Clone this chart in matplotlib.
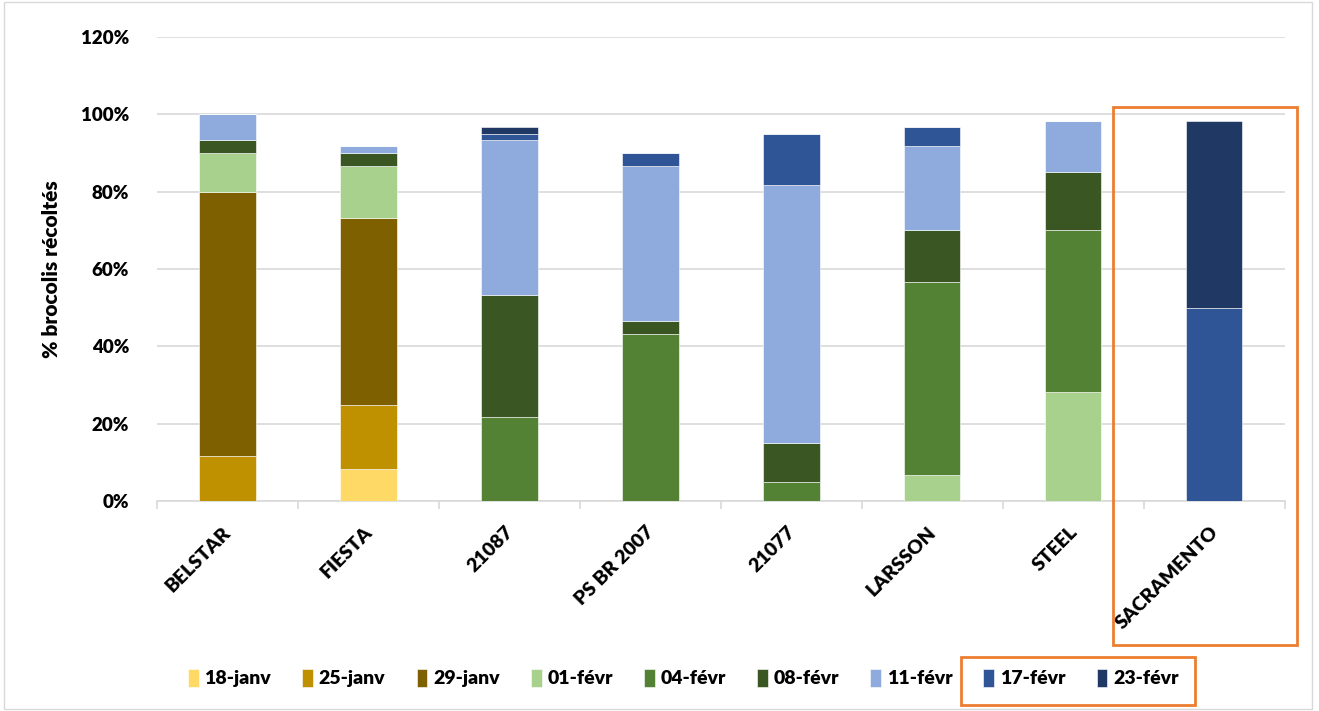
import numpy as np
import matplotlib.pyplot as plt
import matplotlib.transforms as mtransforms
from matplotlib.patches import Rectangle

# Données (% de brocolis récoltés par date)
varietes = ['BELSTAR', 'FIESTA', '21087', 'PS BR 2007', '21077', 'LARSSON', 'STEEL', 'SACRAMENTO']
dates = ['18-janv', '25-janv', '29-janv', '01-févr', '04-févr', '08-févr', '11-févr', '17-févr', '23-févr']

r_18_janv = [0, 8.3, 0, 0, 0, 0, 0, 0]
r_25_janv = [11.7, 16.7, 0, 0, 0, 0, 0, 0]
r_29_janv = [68.3, 48.3, 0, 0, 0, 0, 0, 0]
r_01_fevr = [10.0, 13.4, 0, 0, 0, 6.7, 28.3, 0]
r_04_fevr = [0, 0, 21.7, 43.3, 5.0, 50.0, 41.7, 0]
r_08_fevr = [3.3, 3.3, 31.6, 3.3, 10.0, 13.3, 15.0, 0]
r_11_fevr = [6.7, 1.7, 40.0, 40.0, 66.7, 21.7, 13.3, 0]
r_17_fevr = [0, 0, 1.7, 3.4, 13.3, 5.0, 0, 50.0]
r_23_fevr = [0, 0, 1.7, 0, 0, 0, 0, 48.3]

series = [r_18_janv, r_25_janv, r_29_janv, r_01_fevr, r_04_fevr,
          r_08_fevr, r_11_fevr, r_17_fevr, r_23_fevr]
couleurs = ['#FFD966', '#BF9000', '#7F6000', '#A9D18E', '#548235',
            '#3A5622', '#8FAADC', '#2F5597', '#203864']

plt.rcParams['font.family'] = ['Lato', 'DejaVu Sans']
plt.rcParams['font.weight'] = 'bold'

fig = plt.figure(figsize=(13.19, 7.11), dpi=100)
ax = fig.add_axes([0.119, 0.295, 0.855, 0.653])

x = np.arange(len(varietes))
bas = np.zeros(len(varietes))
for vals, c, lab in zip(series, couleurs, dates):
    vals = np.array(vals)
    ax.bar(x, vals, 0.4, bottom=bas, color=c, edgecolor='white', linewidth=0.4, label=lab, zorder=3)
    bas += vals

ax.set_xlim(-0.5, len(varietes) - 0.5)
ax.set_ylim(0, 120)
ax.set_yticks(np.arange(0, 121, 20))
ax.set_yticklabels([f'{v}%' for v in range(0, 121, 20)], fontsize=13.5, fontweight='heavy')
ax.grid(axis='y', color='#D9D9D9', linewidth=1.2, zorder=0)
ax.tick_params(axis='y', length=0, pad=20)

ax.set_xticks(x)
ax.set_xticklabels(varietes, rotation=45, ha='right', va='top', rotation_mode='anchor',
                   fontsize=14, fontweight='heavy')
ax.tick_params(axis='x', which='major', length=0, pad=16)
decal = mtransforms.ScaledTranslation(-0.05, 0, fig.dpi_scale_trans)
for t in ax.get_xticklabels():
    t.set_transform(t.get_transform() + decal)
ax.set_xticks(np.arange(-0.5, len(varietes), 1), minor=True)
ax.tick_params(axis='x', which='minor', length=6, color='#D9D9D9', width=1.2)

for s in ['top', 'right', 'left']:
    ax.spines[s].set_visible(False)
ax.spines['bottom'].set_color('#D9D9D9')
ax.spines['bottom'].set_linewidth(1.2)

ax.set_ylabel('% brocolis récoltés', fontsize=15, fontweight='heavy', labelpad=14)

leg = fig.legend(loc='center', bbox_to_anchor=(0.518, 0.046), ncol=9, frameon=False,
                 fontsize=14, handlelength=0.55, handleheight=1.0, handletextpad=0.3,
                 columnspacing=1.6)
for t in leg.get_texts():
    t.set_fontweight('heavy')

# cadre du graphique et encadrés orange
fig.patches.append(Rectangle((0.003, 0.003), 0.992, 0.994, transform=fig.transFigure,
                             fill=False, edgecolor='#D9D9D9', linewidth=1))
fig.patches.append(Rectangle((1113 / 1319, 1 - 645 / 711), 184 / 1319, 538 / 711,
                             transform=fig.transFigure, fill=False, edgecolor='#ED7D31', linewidth=2))
fig.patches.append(Rectangle((961 / 1319, 1 - 705 / 711), 234 / 1319, 48 / 711,
                             transform=fig.transFigure, fill=False, edgecolor='#ED7D31', linewidth=2))

fig.savefig('out.png', dpi=100)
